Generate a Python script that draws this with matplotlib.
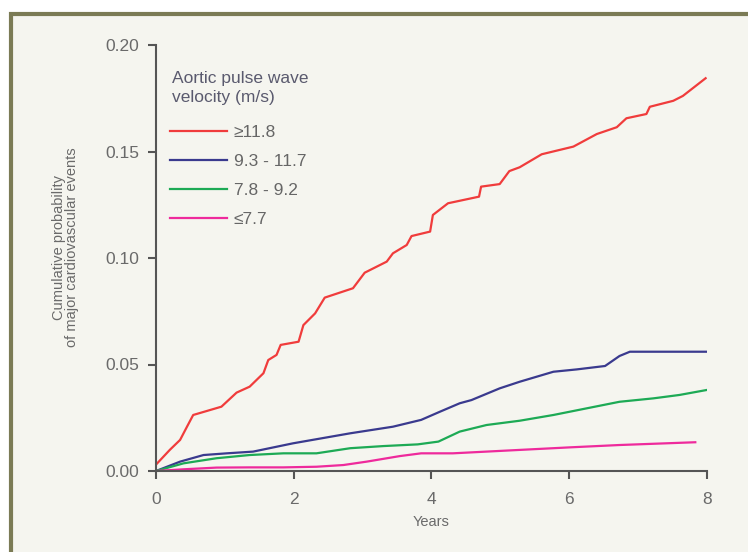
import matplotlib.pyplot as plt
from matplotlib.patches import Rectangle
from matplotlib.ticker import FormatStrFormatter

plt.rcParams['font.family'] = ['Liberation Sans', 'DejaVu Sans']

# Cumulative probability curves
red_x = [0.0, 0.20, 0.35, 0.45, 0.54, 0.74, 0.95, 1.17, 1.36, 1.56, 1.63, 1.75, 1.81, 2.07, 2.14,
         2.31, 2.45, 2.86, 3.03, 3.35, 3.44, 3.64, 3.71, 3.98, 4.02, 4.24, 4.69, 4.72, 4.99, 5.13,
         5.28, 5.60, 6.06, 6.40, 6.69, 6.83, 7.12, 7.17, 7.51, 7.65, 7.98]
red_y = [0.003, 0.0099, 0.0146, 0.0208, 0.0263, 0.0282, 0.0302, 0.0368, 0.0396, 0.0459, 0.0521,
         0.0545, 0.0592, 0.0607, 0.0685, 0.0740, 0.0814, 0.0858, 0.0931, 0.0983, 0.1022, 0.1061,
         0.1103, 0.1124, 0.1202, 0.1257, 0.1288, 0.1335, 0.1347, 0.1408, 0.1426, 0.1487, 0.1523,
         0.1582, 0.1614, 0.1656, 0.1676, 0.1710, 0.1738, 0.1761, 0.1844]

blue_x = [0.0, 0.35, 0.69, 1.03, 1.41, 1.99, 2.82, 3.44, 3.85, 4.12, 4.41, 4.58, 4.99, 5.28,
          5.77, 6.11, 6.52, 6.73, 6.88, 7.99]
blue_y = [0.0, 0.0044, 0.0075, 0.0083, 0.0091, 0.0130, 0.0177, 0.0208, 0.0240, 0.0278, 0.0318,
          0.0333, 0.0388, 0.0419, 0.0466, 0.0477, 0.0493, 0.0540, 0.0560, 0.0560]

green_x = [0.0, 0.40, 0.88, 1.36, 1.85, 2.33, 2.82, 3.30, 3.80, 4.10, 4.41, 4.80, 5.28, 5.77,
           6.25, 6.73, 7.22, 7.60, 7.99]
green_y = [0.0, 0.0036, 0.0060, 0.0075, 0.0083, 0.0083, 0.0107, 0.0117, 0.0125, 0.0138, 0.0185,
           0.0216, 0.0236, 0.0263, 0.0294, 0.0325, 0.0341, 0.0357, 0.0380]

pink_x = [0.0, 0.40, 0.88, 1.36, 1.85, 2.33, 2.72, 3.06, 3.54, 3.85, 4.31, 5.28, 6.01, 6.73, 7.83]
pink_y = [0.0, 0.0008, 0.0016, 0.0017, 0.0017, 0.0020, 0.0028, 0.0044, 0.0070, 0.0083, 0.0083,
          0.0099, 0.0111, 0.0122, 0.0135]

labels = ['≥11.8', '9.3 - 11.7', '7.8 - 9.2', '≤7.7']
colors = ['#f03c3c', '#3a3a8e', '#1daa55', '#ee2a9c']

fig = plt.figure(figsize=(7.48, 5.52), dpi=100, facecolor='white')
# framed panel background
fig.patches.append(Rectangle((11 / 748, -0.1), 1.2, (552 - 14) / 552 + 0.1,
                             transform=fig.transFigure, facecolor='#f5f5ef',
                             edgecolor='#7b7b55', linewidth=3, zorder=-5))

ax = fig.add_axes([156 / 748, 81 / 552, 551 / 748, 426 / 552])
ax.set_zorder(2)
ax.set_facecolor('none')

ax.plot(red_x, red_y, color=colors[0], lw=1.6, label=labels[0])
ax.plot(blue_x, blue_y, color=colors[1], lw=1.6, label=labels[1])
ax.plot(green_x, green_y, color=colors[2], lw=1.6, label=labels[2])
ax.plot(pink_x, pink_y, color=colors[3], lw=1.6, label=labels[3])

ax.set_xlim(0, 8)
ax.set_ylim(0, 0.20)
ax.set_xticks([0, 2, 4, 6, 8])
ax.set_yticks([0, 0.05, 0.10, 0.15, 0.20])
ax.yaxis.set_major_formatter(FormatStrFormatter('%.2f'))

for s in ['top', 'right']:
    ax.spines[s].set_visible(False)
for s in ['left', 'bottom']:
    ax.spines[s].set_color('#555555')
    ax.spines[s].set_linewidth(1.5)
ax.tick_params(direction='out', length=6, width=1.5, color='#555555',
               labelcolor='#6a6a6a', labelsize=12.5, pad=6)
ax.tick_params(axis='x', pad=9)

ax.set_xlabel('Years', fontsize=10.5, color='#6a6a6a', labelpad=6)
ax.set_ylabel('Cumulative probability\nof major cardiovascular events', fontsize=10.5,
              color='#6a6a6a', linespacing=0.9)
ax.yaxis.set_label_coords(-0.1395, 0.525)

# legend title drawn as its own text so its spacing can follow the original
ax.text(0.029, 0.939, 'Aortic pulse wave\nvelocity (m/s)', transform=ax.transAxes,
        ha='left', va='top', fontsize=12.5, color='#5a5a6e', linespacing=1.3)
leg = ax.legend(loc='upper left', bbox_to_anchor=(0.012, 0.829), frameon=False,
                fontsize=12.5, handlelength=3.3, handletextpad=0.4,
                labelspacing=0.8, borderaxespad=0)
for t in leg.get_texts():
    t.set_color('#666666')

fig.savefig('out.png', dpi=100)
